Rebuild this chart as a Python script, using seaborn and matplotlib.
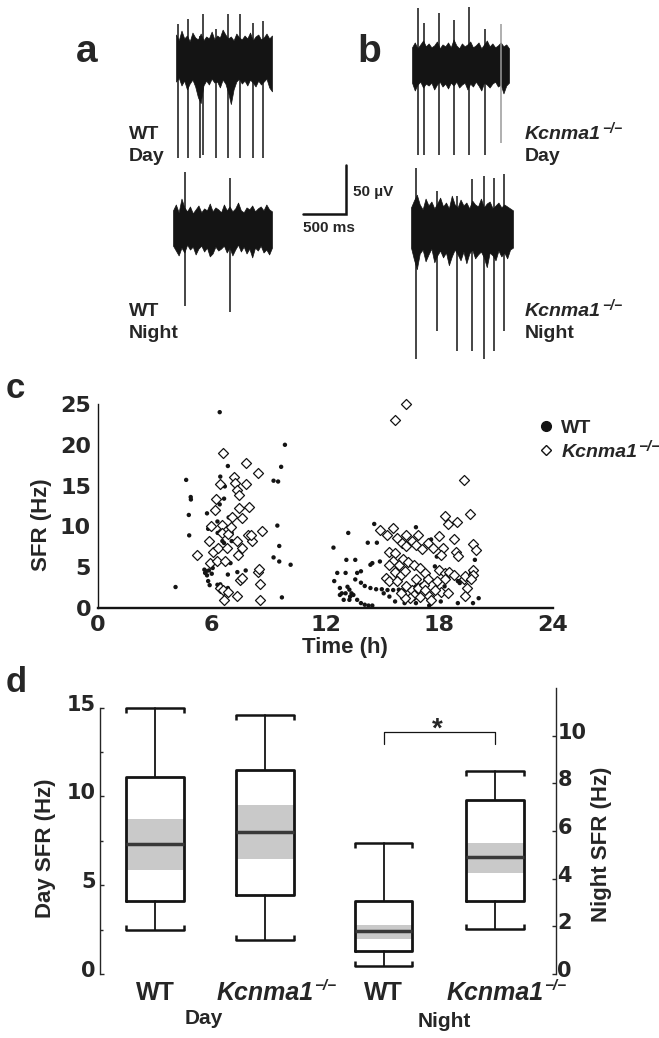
import numpy as np
import pandas as pd
import matplotlib.pyplot as plt
import seaborn as sns
from matplotlib.lines import Line2D
from matplotlib.transforms import ScaledTranslation

sns.set_style('white')
plt.rcParams['font.family'] = ['Liberation Sans', 'DejaVu Sans']
plt.rcParams['font.weight'] = 'bold'

W, H = 659, 1038
INK = '#141414'
SUP = '\u2212/\u2212'

# ---------------- a/b : example recordings ----------------
# trace length (ms), noise envelope (uV), spikes: time (ms), peak / trough (uV)
wt_day_ms = 1116
wt_day_top = [26, 20, 30, 22, 25, 19, 28, 23, 21, 27, 20, 24, 22, 29, 21, 25, 23, 31,
              26, 22, 24, 20, 27, 23, 21, 25, 22, 28, 20, 24, 26, 21, 23, 27, 22, 25]
wt_day_bot = [-22, -18, -26, -21, -30, -24, -20, -27, -38, -44, -26, -21, -25, -19, -23, -22, -28, -20,
              -24, -33, -45, -30, -22, -19, -24, -21, -26, -20, -23, -27, -21, -25, -22, -19, -28, -32]
wt_day_spk_t = [23, 140, 279, 314, 465, 605, 744, 895, 1012]
wt_day_spk_hi = [37, 42, 25, 47, 32, 47, 47, 38, 40]
wt_day_spk_lo = [-100, -100, -100, -97, -100, -100, -100, -100, -100]

wt_night_ms = 1151
wt_night_top = [18, 24, 16, 30, 21, 17, 22, 15, 19, 23, 16, 20, 18, 25, 17, 21, 19, 16,
                24, 18, 22, 17, 20, 26, 18, 16, 21, 19, 23, 17, 20, 22, 18, 24, 19, 17]
wt_night_bot = [-18, -23, -28, -20, -25, -17, -22, -19, -27, -21, -18, -24, -20, -29, -26, -19, -23, -21,
                -18, -25, -20, -28, -22, -17, -24, -19, -26, -21, -30, -20, -23, -18, -25, -22, -27, -20]
wt_night_spk_t = [140, 663]
wt_night_spk_hi = [57, 51]
wt_night_spk_lo = [-80, -86]

ko_day_ms = 1128
ko_day_top = [17, 22, 16, 20, 24, 18, 21, 17, 19, 23, 16, 20, 18, 22, 17, 25, 19, 16,
              21, 18, 20, 23, 17, 19, 22, 16, 20, 24, 18, 21, 17, 19, 22, 18, 20, 16]
ko_day_bot = [-19, -27, -21, -18, -24, -20, -22, -19, -26, -21, -18, -23, -20, -25, -19, -22, -18, -24,
              -21, -19, -26, -20, -23, -18, -22, -27, -19, -21, -24, -20, -18, -23, -21, -30, -22, -19]
ko_day_spk_t = [66, 140, 310, 488, 663, 852, 1031]
ko_day_spk_hi = [57, 42, 52, 45, 58, 36, 41]
ko_day_spk_lo = [-93, -93, -93, -93, -93, -93, -81]

ko_night_ms = 1186
ko_night_top = [21, 28, 34, 24, 19, 30, 23, 27, 20, 25, 31, 22, 26, 20, 33, 24, 21, 29,
                23, 26, 20, 28, 24, 22, 30, 21, 25, 27, 20, 23, 26, 21, 24, 22, 20, 18]
ko_night_bot = [-20, -32, -42, -26, -22, -34, -27, -21, -35, -28, -23, -30, -25, -38, -29, -22, -27, -33,
                -24, -36, -26, -22, -31, -27, -24, -30, -40, -25, -28, -33, -23, -29, -25, -31, -22, -20]
ko_night_spk_t = [58, 299, 539, 706, 849, 969, 1085]
ko_night_spk_hi = [61, 38, 33, 50, 53, 51, 55]
ko_night_spk_lo = [-134, -105, -125, -125, -134, -125, -105]

scale_ms, scale_uv = 500, 50

# ---------------- c : SFR vs time of day ----------------
wt_time = [4.09, 4.65, 4.89, 4.9, 4.79, 4.81, 5.75, 5.81, 5.61, 5.65, 5.75, 5.81, 5.89, 6.05, 5.95,
           6.42, 6.45, 6.42, 6.3, 6.31, 6.45, 6.65, 6.69, 6.85, 6.56, 6.65, 6.76, 6.25, 6.15, 6.45,
           6.85, 6.85, 6.89, 7.15, 7.05, 7.05, 6.99, 7.35, 7.79, 6.6, 6.3, 5.7, 5.85, 6.0,
           9.26, 9.5, 9.66, 9.86, 9.46, 9.56, 9.26, 9.56, 10.16, 9.7,
           12.42, 12.62, 12.46, 13.06, 13.1, 13.2, 13.57, 13.67, 13.87, 14.23, 14.37, 14.47, 14.57,
           14.71, 14.87, 12.76, 12.86, 12.96, 13.16, 13.26, 13.37, 13.47, 13.67, 13.87, 14.07, 14.27,
           14.47, 13.57, 13.87, 14.07, 14.37, 14.67, 14.97, 15.27, 15.57, 15.87, 16.17, 16.47, 16.77,
           17.07, 17.27, 17.77, 17.87, 17.57, 16.77, 15.67, 16.17, 16.77, 17.47, 18.08, 18.98, 19.78,
           20.08, 18.98, 19.08, 19.78, 19.88, 19.68, 18.88, 18.28, 15.07, 15.37, 13.06, 13.3, 12.76, 13.26]
wt_sfr = [2.57, 15.7, 13.6, 13.3, 11.4, 8.9, 11.6, 9.7, 4.7, 4.3, 4.0, 3.3, 2.8, 4.9, 5.7,
          24.0, 16.1, 12.7, 10.6, 9.2, 9.4, 13.4, 14.9, 17.4, 8.2, 7.96, 5.9, 5.9, 5.5, 2.9,
          2.45, 4.1, 11.1, 11.2, 9.2, 8.2, 5.5, 4.4, 4.6, 2.3, 2.85, 4.5, 4.6, 4.2,
          15.6, 15.5, 17.3, 20.0, 10.1, 7.6, 6.2, 5.7, 5.3, 1.3,
          7.4, 4.3, 3.3, 4.3, 5.9, 9.2, 5.9, 4.3, 4.5, 8.0, 5.3, 5.5, 10.3,
          8.0, 5.7, 2.45, 1.8, 1.0, 2.6, 2.25, 1.8, 1.6, 1.0, 0.6, 0.4, 0.3,
          0.3, 3.5, 3.1, 2.7, 2.45, 2.3, 2.3, 2.2, 2.2, 2.25, 2.25, 2.45, 2.65,
          2.86, 3.5, 5.1, 6.3, 8.4, 9.9, 0.8, 0.6, 0.6, 0.3, 0.8, 0.6, 0.6,
          1.2, 3.3, 3.06, 3.5, 5.9, 4.3, 8.4, 2.65, 1.8, 1.4, 1.8, 1.4, 1.6, 1.0]

ko_time = [5.21, 5.85, 5.95, 6.09, 5.89, 6.15, 6.21, 6.45, 6.61, 6.29, 6.35, 6.55, 6.55, 6.69,
           6.81, 6.85, 7.01, 7.05, 7.15, 7.21, 7.35, 7.45, 7.45, 7.31, 7.39, 7.62, 7.62, 7.79,
           7.79, 7.99, 7.9, 8.12, 8.06, 8.42, 8.66, 8.46, 8.5, 8.56, 8.52, 7.49, 7.62, 7.31,
           6.65, 6.41, 6.61, 6.85,
           16.23, 15.67, 19.32, 18.32, 19.64, 18.48, 18.92, 14.87, 15.23, 15.57, 16.23, 16.87,
           15.77, 16.03, 16.27, 16.57, 16.77, 17.07, 17.43, 17.67, 17.98, 18.18, 18.08, 18.78,
           18.88, 18.98, 19.78, 19.92, 15.37, 15.67, 15.57, 15.87, 15.37, 16.07, 16.37, 16.67,
           16.97, 17.27, 15.67, 15.97, 16.17, 15.17, 15.37, 15.77, 16.77, 17.43, 17.87, 17.98,
           18.28, 18.52, 18.28, 18.78, 19.28, 19.38, 19.78, 19.78, 19.68, 19.48, 19.38, 16.27,
           16.57, 16.87, 17.17, 17.27, 16.67, 16.47, 16.97, 17.47, 17.57, 18.08, 18.44, 17.77,
           16.17, 15.97]
ko_sfr = [6.5, 8.2, 10.0, 6.9, 5.5, 12.0, 13.3, 15.2, 19.0, 5.7, 7.3, 10.2, 9.2, 5.7,
          7.3, 9.1, 9.9, 11.1, 16.1, 15.3, 14.5, 13.9, 12.3, 8.2, 6.5, 7.4, 11.0, 15.2,
          17.8, 12.4, 8.9, 8.2, 8.97, 16.6, 9.4, 4.4, 4.8, 3.0, 0.94, 3.45, 3.7, 1.5,
          1.0, 2.45, 2.25, 2.0,
          25.0, 23.1, 15.7, 11.3, 11.5, 10.3, 10.5, 9.5, 8.9, 9.8, 9.0, 9.0,
          8.6, 7.96, 7.55, 8.2, 7.76, 7.2, 8.0, 7.3, 8.8, 7.35, 6.5, 8.4,
          6.9, 6.4, 7.8, 7.1, 6.9, 6.8, 5.7, 5.3, 5.3, 6.0, 5.6, 5.3,
          4.9, 4.3, 4.4, 4.1, 4.5, 3.7, 3.3, 3.3, 3.5, 3.5, 3.3, 4.7,
          4.3, 4.4, 3.5, 4.1, 3.55, 3.9, 4.7, 4.1, 3.5, 2.45, 1.5, 2.65,
          2.25, 2.45, 2.86, 2.25, 1.6, 1.2, 1.4, 1.5, 1.0, 2.0, 1.8, 2.25,
          1.2, 1.8]

# ---------------- d : box plots (day on left axis, night on right axis) ----------------
geno = ['WT', 'Kcnma1']
day_whishi = [15.0, 14.6]
day_q3 = [11.1, 11.5]
day_band_hi = [8.7, 9.5]
day_med = [7.3, 8.0]
day_band_lo = [5.85, 6.45]
day_q1 = [4.1, 4.45]
day_whislo = [2.5, 1.9]

night_whishi = [5.5, 8.5]
night_q3 = [3.05, 7.3]
night_band_hi = [2.05, 5.5]
night_med = [1.8, 4.9]
night_band_lo = [1.47, 4.25]
night_q1 = [0.95, 3.05]
night_whislo = [0.33, 1.9]

sig_y = [9.66, 10.17]

# ---------------- figure ----------------
fig = plt.figure(figsize=(W / 100, H / 100), dpi=100)
bg = fig.add_axes([0, 0, 1, 1])
bg.set_xlim(0, W)
bg.set_ylim(H, 0)
bg.axis('off')


def px_axes(x0, y_top, w, h):
    return fig.add_axes([x0 / W, 1 - (y_top + h) / H, w / W, h / H])


def sup_after(txt, size, frac=0.8, holder=bg):
    holder.annotate(SUP, xy=(1, frac), xycoords=txt, xytext=(0.5, 0), textcoords='offset points',
                    fontsize=size, style='italic', fontweight='bold', va='center', ha='left')


# panel letters
for s, x, y, fs in [('a', 87, 62, 28), ('b', 369, 62, 28), ('c', 15, 398, 25), ('d', 16, 692, 25)]:
    bg.text(x, y, s, fontsize=fs, fontweight='bold', ha='center', va='baseline')

# traces
PX_MS = 43 / scale_ms
PX_UV = 49 / scale_uv
traces = [
    (176, 60, wt_day_ms, wt_day_top, wt_day_bot, wt_day_spk_t, wt_day_spk_hi, wt_day_spk_lo, None),
    (173, 228, wt_night_ms, wt_night_top, wt_night_bot, wt_night_spk_t, wt_night_spk_hi, wt_night_spk_lo, None),
    (412, 64, ko_day_ms, ko_day_top, ko_day_bot, ko_day_spk_t, ko_day_spk_hi, ko_day_spk_lo, 6),
    (411, 228, ko_night_ms, ko_night_top, ko_night_bot, ko_night_spk_t, ko_night_spk_hi, ko_night_spk_lo, None),
]
for x0, yc, dur, top, bot, st, shi, slo, grey in traces:
    hh = 300 * PX_UV
    ax = px_axes(x0, yc - hh / 2, dur * PX_MS, hh)
    ax.set_xlim(0, dur)
    ax.set_ylim(-150, 150)
    ax.axis('off')
    t = np.linspace(0, dur, len(top))
    ax.fill_between(t, bot, top, color=INK, lw=0.5, edgecolor=INK)
    cols = [('#9a9a9a' if i == grey else INK) for i in range(len(st))]
    ax.vlines(st, slo, shi, colors=cols, lw=1.1)

# scale bar
ax_sb = px_axes(303, 165, scale_ms * PX_MS, scale_uv * PX_UV)
ax_sb.set_xlim(0, scale_ms)
ax_sb.set_ylim(0, scale_uv)
ax_sb.axis('off')
ax_sb.plot([0, scale_ms, scale_ms], [0, 0, scale_uv], color=INK, lw=1.8, clip_on=False,
           solid_joinstyle='miter')
bg.text(353, 192, '50 \u00b5V', fontsize=11, fontweight='bold', va='center', ha='left')
bg.text(329, 228, '500 ms', fontsize=11, fontweight='bold', va='center', ha='center')

# trace labels
for y1, y2, s2 in [(139, 161, 'Day'), (316, 338, 'Night')]:
    bg.text(129, y1, 'WT', fontsize=14, fontweight='bold', va='baseline')
    bg.text(129, y2, s2, fontsize=14, fontweight='bold', va='baseline')
    k = bg.text(525, y1, 'Kcnma1', fontsize=14, fontweight='bold', style='italic', va='baseline')
    sup_after(k, 10)
    bg.text(525, y2, s2, fontsize=14, fontweight='bold', va='baseline')

# ---------------- panel c ----------------
df = pd.DataFrame({'time': wt_time + ko_time, 'sfr': wt_sfr + ko_sfr,
                   'genotype': ['WT'] * len(wt_time) + ['Kcnma1'] * len(ko_time)})
ax_c = px_axes(98, 404, 455, 204)
sns.scatterplot(data=df[df.genotype == 'WT'], x='time', y='sfr', ax=ax_c, color=INK, s=10,
                edgecolor='none', marker='o', legend=False, clip_on=False)
sns.scatterplot(data=df[df.genotype == 'Kcnma1'], x='time', y='sfr', ax=ax_c, facecolor='white',
                edgecolor=INK, linewidth=0.9, s=26, marker='D', legend=False, clip_on=False)
ax_c.set_xlim(0, 24)
ax_c.set_ylim(0, 25)
ax_c.set_xticks([0, 6, 12, 18, 24])
ax_c.set_yticks([0, 5, 10, 15, 20, 25])
ax_c.set_xlabel('')
ax_c.set_ylabel('')
for side in ['top', 'right']:
    ax_c.spines[side].set_visible(False)
ax_c.spines['bottom'].set_linewidth(1.7)
ax_c.spines['left'].set_linewidth(1.0)
for side in ['bottom', 'left']:
    ax_c.spines[side].set_color(INK)
ax_c.tick_params(axis='both', direction='out', length=3, width=1, color=INK, labelsize=16,
                 labelfontfamily='DejaVu Sans', pad=2)
bg.text(41, 525, 'SFR (Hz)', rotation=90, fontsize=16, fontweight='bold', ha='center', va='center')
bg.text(345, 647, 'Time (h)', fontsize=16, fontweight='bold', ha='center', va='center')

handles = [Line2D([], [], ls='none', marker='o', ms=7, mfc=INK, mec=INK),
           Line2D([], [], ls='none', marker='D', ms=5, mfc='white', mec=INK, mew=1)]
leg = ax_c.legend(handles=handles, labels=geno, loc='center left', frameon=False,
                  bbox_to_anchor=(538 / W, 1 - 440 / H), bbox_transform=fig.transFigure,
                  handlelength=0.8, handletextpad=0.4, borderpad=0, borderaxespad=0,
                  labelspacing=0.35, prop={'size': 14, 'weight': 'bold'})
leg.get_texts()[1].set_style('italic')

# ---------------- panel d ----------------
DAY_POS = [0, 1]
NIGHT_POS = [2.08, 3.09]
BOX_W = 0.52
ax_d = px_axes(100, 688, 456, 286)
ax_n = ax_d.twinx()
ax_d.set_xlim(-0.5, 3.645)
ax_d.set_ylim(0, 16.1)
ax_n.set_ylim(0, 12)

box_style = dict(showfliers=False, patch_artist=False, widths=BOX_W, capwidths=BOX_W,
                 boxprops=dict(color=INK, lw=2.0), whiskerprops=dict(color=INK, lw=1.3),
                 capprops=dict(color=INK, lw=1.8), medianprops=dict(color='#383838', lw=2.5))
for ax, pos, hi, q3, bhi, med, blo, q1, lo, tick in [
        (ax_d, DAY_POS, day_whishi, day_q3, day_band_hi, day_med, day_band_lo, day_q1, day_whislo, 0.28),
        (ax_n, NIGHT_POS, night_whishi, night_q3, night_band_hi, night_med, night_band_lo, night_q1, night_whislo, 0.21)]:
    stats = [dict(med=med[i], q1=q1[i], q3=q3[i], whislo=lo[i], whishi=hi[i], fliers=[])
             for i in range(len(pos))]
    ax.bar(pos, np.subtract(bhi, blo), bottom=blo, width=BOX_W, color='#c9c9c9', zorder=1, lw=0)
    ax.bxp(stats, positions=pos, **box_style)
    for i, p in enumerate(pos):
        ends = [p - BOX_W / 2, p + BOX_W / 2]
        ax.vlines(ends, hi[i] - tick, hi[i], colors=INK, lw=1.8)
        ax.vlines(ends, lo[i], lo[i] + tick, colors=INK, lw=1.8)

# significance bracket
ax_n.plot([NIGHT_POS[0], NIGHT_POS[0], NIGHT_POS[1], NIGHT_POS[1]],
          [sig_y[0], sig_y[1], sig_y[1], sig_y[0]], color=INK, lw=0.9)
ax_n.text(np.mean(NIGHT_POS) - 0.02, 9.95, '*', fontsize=20, fontweight='bold', ha='center', va='baseline')

ax_d.set_xticks([])
for ax in [ax_d, ax_n]:
    for side in ['top', 'bottom']:
        ax.spines[side].set_visible(False)
    ax.set_xlabel('')
ax_d.spines['right'].set_visible(False)
ax_n.spines['left'].set_visible(False)
ax_d.spines['left'].set_bounds(0, 15)
ax_d.spines['left'].set_linewidth(1.0)
ax_n.spines['right'].set_linewidth(1.0)
ax_d.set_yticks([0, 5, 10, 15])
ax_d.set_yticks([2.5, 7.5, 12.5], minor=True)
ax_n.set_yticks([0, 2, 4, 6, 8, 10])
ax_d.tick_params(axis='y', which='both', direction='in', length=3, width=1, labelsize=15,
                 labelfontfamily='DejaVu Sans', pad=3)
ax_d.tick_params(axis='y', which='minor', length=2)
ax_n.tick_params(axis='y', direction='in', length=3, width=1, labelsize=15,
                 labelfontfamily='DejaVu Sans', pad=1)
lift = ScaledTranslation(0, 0.05, fig.dpi_scale_trans)
for lab in ax_d.get_yticklabels() + ax_n.get_yticklabels():
    lab.set_transform(lab.get_transform() + lift)

xt = ax_d.get_xaxis_transform()
for p, g in zip(DAY_POS + NIGHT_POS, geno + geno):
    if g == 'WT':
        ax_d.text(p, -0.091, 'WT', transform=xt, fontsize=18, fontweight='bold', ha='center', va='baseline')
    else:
        k = ax_d.text(p, -0.091, 'Kcnma1', transform=xt, fontsize=18, fontweight='bold',
                      style='italic', ha='center', va='baseline')
        sup_after(k, 11, holder=ax_d)
bg.text(204, 1024, 'Day', fontsize=15, fontweight='bold', ha='center', va='baseline')
bg.text(444, 1027, 'Night', fontsize=15, fontweight='bold', ha='center', va='baseline')
bg.text(46, 848, 'Day SFR (Hz)', rotation=90, fontsize=16, fontweight='bold', ha='center', va='center')
bg.text(602, 844, 'Night SFR (Hz)', rotation=90, fontsize=16, fontweight='bold', ha='center', va='center')

# legend superscript needs the legend laid out first
fig.canvas.draw()
bb = leg.get_texts()[1].get_window_extent()
bg.annotate(SUP, xy=(bb.x1 + 1, bb.y0 + 0.8 * bb.height), xycoords='figure pixels',
            fontsize=11, style='italic', fontweight='bold', va='center', ha='left')

fig.savefig('out.png', dpi=100)
